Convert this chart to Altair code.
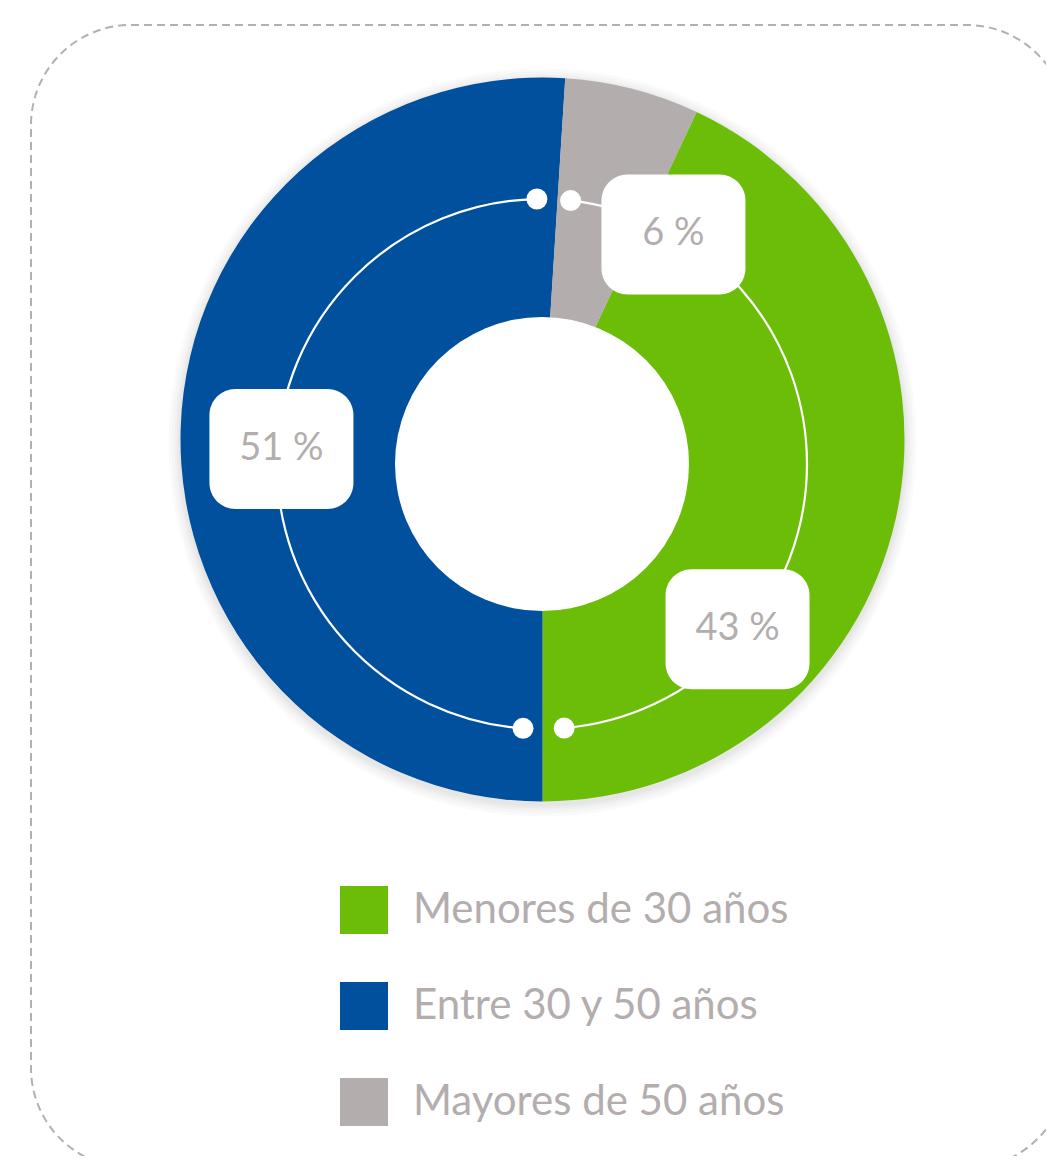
import math
import altair as alt
import pandas as pd

# ---- data ----
CATEGORIES = ["Menores de 30 años", "Entre 30 y 50 años", "Mayores de 50 años"]
VALUES = [43, 51, 6]
LABELS = ["43 %", "51 %", "6 %"]
COLORS = ["#6cbd07", "#00509d", "#b3adad"]
SLICE_ORDER = [2, 3, 1]  # angular order, clockwise starting just right of 12 o'clock

# ---- layout (page px -> view px) ----
OX, OY = 30, 24
VIEW_W, VIEW_H = 1016, 1132           # fits inside the 1055x1165 window
BOX_RIGHT, BOX_BOTTOM = 1067 - OX, 1168 - OY   # dashed frame runs past the window
PIE_CX, PIE_CY, PIE_R = 542.5 - OX, 439.5 - OY, 362
HOLE_CX, HOLE_CY, HOLE_R = 542 - OX, 464 - OY, 147
RING_R = 265
DOT_D = 21
START = math.radians(3.6)
RING_SEGMENTS = [(6.2, 175.2), (184.1, 358.9)]          # degrees
DOT_ANGLES = [358.9, 6.2, 175.2, 184.1]                 # degrees
LABEL_ANGLE = [130.2, 273.3, 29.8]                      # degrees, per category
LABEL_RADIUS = [256, 261, 264.5]
BOX_W, BOX_H = 144, 120

FONT = "Lato"
TEXT_GREY = "#b3adad"

df = pd.DataFrame({
    "cat": CATEGORIES,
    "value": VALUES,
    "label": LABELS,
    "ord": SLICE_ORDER,
    "lang": LABEL_ANGLE,
    "lrad": LABEL_RADIUS,
})

one = pd.DataFrame({"k": [0]})

frame = alt.Chart(one).mark_rect(
    filled=False, stroke="#b5b0b0", strokeWidth=2, strokeDash=[8, 5],
    cornerRadius=100, clip=True,
).encode(
    x=alt.value(1), x2=alt.value(BOX_RIGHT), y=alt.value(1), y2=alt.value(BOX_BOTTOM)
)

# soft shadow under the pie (vega circle size = diameter^2)
shadow_df = pd.DataFrame({"grow": [12, 9, 6, 4, 2]})
shadow = alt.Chart(shadow_df).mark_circle(color="#000000", opacity=0.02).transform_calculate(
    s=f"pow(2*({PIE_R}+datum.grow), 2)"
).encode(
    x=alt.value(PIE_CX),
    y=alt.value(PIE_CY + 3),
    size=alt.Size("s:Q", scale=None, legend=None),
)

pie = alt.Chart(df).mark_arc(radius=PIE_R).encode(
    theta=alt.Theta("value:Q", stack=True,
                    scale=alt.Scale(range=[START, START + 2 * math.pi])),
    color=alt.Color(
        "cat:N",
        scale=alt.Scale(domain=CATEGORIES, range=COLORS),
        sort=CATEGORIES,
        legend=alt.Legend(
            orient="none", legendX=310, legendY=862, title=None,
            symbolType="square", symbolSize=2304, symbolStrokeWidth=0,
            symbolOpacity=1, labelFontSize=42, labelColor=TEXT_GREY,
            labelFont=FONT, labelOffset=25, rowPadding=48, padding=0,
            labelLimit=700, direction="vertical",
        ),
    ),
    order=alt.Order("ord:Q"),
    x=alt.value(PIE_CX),
    y=alt.value(PIE_CY),
)

hole = alt.Chart(one).mark_circle(color="white", opacity=1,
                                  size=(2 * HOLE_R) ** 2).encode(
    x=alt.value(HOLE_CX), y=alt.value(HOLE_CY)
)

rings = []
for a0, a1 in RING_SEGMENTS:
    rings.append(
        alt.Chart(one).mark_arc(
            theta=math.radians(a0), theta2=math.radians(a1),
            radius=RING_R, radius2=RING_R, filled=False,
            stroke="white", strokeWidth=2.2,
        ).encode(x=alt.value(HOLE_CX), y=alt.value(HOLE_CY))
    )

dots_df = pd.DataFrame({"ang": DOT_ANGLES})
dots = alt.Chart(dots_df).mark_circle(color="white", opacity=1, size=DOT_D ** 2).transform_calculate(
    px=f"{HOLE_CX} + {RING_R}*sin(datum.ang*PI/180)",
    py=f"{HOLE_CY} - {RING_R}*cos(datum.ang*PI/180)",
).encode(
    x=alt.X("px:Q", scale=None, axis=None),
    y=alt.Y("py:Q", scale=None, axis=None),
)

label_base = alt.Chart(df).transform_calculate(
    px=f"{HOLE_CX} + datum.lrad*sin(datum.lang*PI/180)",
    py=f"{HOLE_CY} - datum.lrad*cos(datum.lang*PI/180)",
    x0=f"datum.px - {BOX_W/2}", x1=f"datum.px + {BOX_W/2}",
    y0=f"datum.py - {BOX_H/2}", y1=f"datum.py + {BOX_H/2}",
)

boxes = label_base.mark_rect(color="white", cornerRadius=26).encode(
    x=alt.X("x0:Q", scale=None, axis=None),
    x2="x1:Q",
    y=alt.Y("y0:Q", scale=None, axis=None),
    y2="y1:Q",
)

texts = label_base.mark_text(font=FONT, fontSize=38, color=TEXT_GREY,
                             align="center", baseline="middle").encode(
    x=alt.X("px:Q", scale=None, axis=None),
    y=alt.Y("py:Q", scale=None, axis=None),
    text="label:N",
)

chart = alt.layer(frame, shadow, pie, hole, *rings, dots, boxes, texts).properties(
    width=VIEW_W, height=VIEW_H,
    autosize=alt.AutoSizeParams(type="none"),
    padding={"left": OX - 8, "top": OY - 8, "right": 0, "bottom": 0},
    background="white",
).configure_view(
    stroke="transparent",
).resolve_scale(size="independent")

chart.save("out.html", embed_options={"renderer": "svg", "actions": False})
